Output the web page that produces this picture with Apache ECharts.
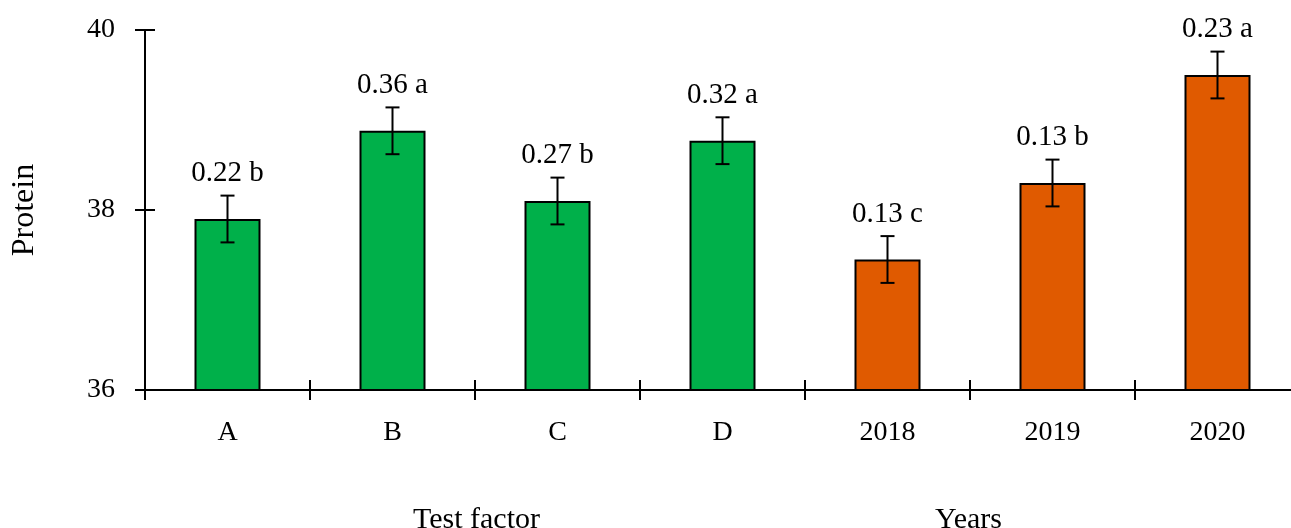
<!DOCTYPE html>
<html>
<head>
<meta charset="utf-8">
<script src="https://cdn.jsdelivr.net/npm/echarts@6/dist/echarts.min.js"></script>
<style>
  html, body { margin: 0; padding: 0; background: #fff; }
  #chart { width: 1291px; height: 528px; }
</style>
</head>
<body>
<div id="chart"></div>
<script>
(function(){
  // categories and measured means (protein), with error bar half-lengths
  const categories = ["A", "B", "C", "D", "2018", "2019", "2020"];
  const groups = ["Test factor", "Test factor", "Test factor", "Test factor", "Years", "Years", "Years"];
  const means = [37.9, 38.88, 38.1, 38.77, 37.45, 38.3, 39.5];
  const errors = [0.26, 0.26, 0.26, 0.26, 0.26, 0.26, 0.26];
  const statLabels = ["0.22 b", "0.36 a", "0.27 b", "0.32 a", "0.13 c", "0.13 b", "0.23 a"];
  const yTicks = [36, 38, 40];

  const groupColors = { "Test factor": "#00B04A", "Years": "#E05A00" };
  const font = "'Liberation Serif', 'DejaVu Serif', serif";

  const container = document.getElementById("chart");
  const chart = echarts.init(container);

  const axisLine = { show: true, lineStyle: { color: "#000", width: 2 } };

  const option = {
    animation: false,
    textStyle: { fontFamily: font, color: "#000" },
    grid: { left: 145, top: 30, width: 1155, height: 360, outerBoundsMode: "none" },
    xAxis: [
      {
        type: "category", data: categories,
        axisLine: axisLine,
        axisTick: { show: true, length: 10, lineStyle: { color: "#000", width: 2 } },
        axisLabel: { color: "#000", fontFamily: font, fontSize: 28, margin: 29 }
      },
      {
        type: "category", data: categories, position: "bottom",
        axisLine: { show: false },
        axisTick: { show: true, inside: true, length: 10, lineStyle: { color: "#000", width: 2 } },
        axisLabel: { show: false }
      }
    ],
    yAxis: [
      {
        type: "value", min: yTicks[0], max: yTicks[yTicks.length - 1], interval: 2,
        axisLine: axisLine,
        axisTick: { show: true, length: 10, lineStyle: { color: "#000", width: 2 } },
        splitLine: { show: false },
        axisLabel: { color: "#000", fontFamily: font, fontSize: 28, margin: 30 },
        name: "Protein", nameLocation: "middle", nameGap: 104, nameRotate: 90,
        nameTextStyle: { color: "#000", fontFamily: font, fontSize: 32 }
      },
      {
        type: "value", min: yTicks[0], max: yTicks[yTicks.length - 1], interval: 2, position: "left",
        axisLine: { show: false },
        axisTick: { show: true, inside: true, length: 10, lineStyle: { color: "#000", width: 2 } },
        splitLine: { show: false },
        axisLabel: { show: false }
      }
    ],
    series: [
      {
        type: "bar", barWidth: "40%",
        data: means.map((v, i) => ({
          value: v,
          itemStyle: { color: groupColors[groups[i]], borderColor: "#000", borderWidth: 2 }
        })),
        z: 2
      },
      {
        type: "custom",
        data: means.map((v, i) => [i, v, errors[i]]),
        z: 5,
        renderItem: function (params, api) {
          const x = api.coord([api.value(0), 0])[0];
          const hi = api.coord([api.value(0), api.value(1) + api.value(2)])[1];
          const lo = api.coord([api.value(0), api.value(1) - api.value(2)])[1];
          const cap = 7;
          const ls = { stroke: "#000", lineWidth: 2 };
          return {
            type: "group",
            children: [
              { type: "line", shape: { x1: x, y1: hi, x2: x, y2: lo }, style: ls },
              { type: "line", shape: { x1: x - cap, y1: hi, x2: x + cap, y2: hi }, style: ls },
              { type: "line", shape: { x1: x - cap, y1: lo, x2: x + cap, y2: lo }, style: ls },
              {
                type: "text",
                style: {
                  x: x, y: hi - 22, text: statLabels[params.dataIndex],
                  align: "center", verticalAlign: "middle",
                  fontFamily: font, fontSize: 29, fill: "#000"
                }
              }
            ]
          };
        }
      }
    ],
    graphic: [
      { type: "text", left: 413, top: 505, style: { text: "Test factor", fontFamily: font, fontSize: 30, fill: "#000" } },
      { type: "text", left: 935, top: 505, style: { text: "Years", fontFamily: font, fontSize: 30, fill: "#000" } }
    ]
  };

  chart.setOption(option);
  window.addEventListener("resize", () => chart.resize());
})();
</script>
</body>
</html>
